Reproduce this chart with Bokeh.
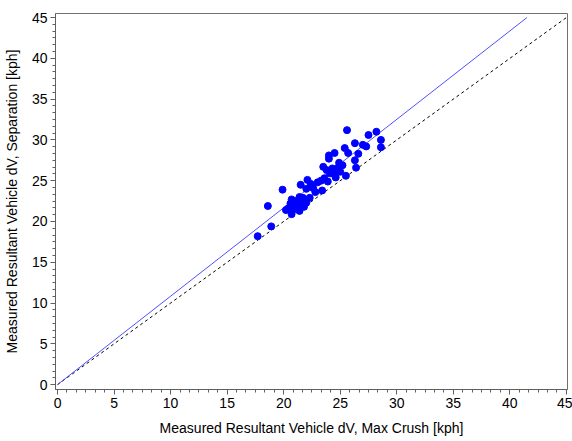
from bokeh.plotting import figure
from bokeh.models import Range1d, FixedTicker
from bokeh.embed import file_html
from bokeh.resources import INLINE

# Measured dV values (kph)
max_crush = [17.7, 18.9, 18.6, 19.9, 21.5, 23.4, 25.6, 28.2, 27.5, 28.6, 28.6, 26.3,
             27.0, 27.3, 26.6, 25.4, 25.7, 24.5, 24.0, 24.0, 26.3, 26.4, 25.5, 24.9,
             24.8, 24.3, 23.5, 23.8, 24.1, 24.5, 25.0, 23.6, 23.3, 23.0, 22.1, 22.4,
             22.6, 22.0, 21.7, 22.3, 21.4, 21.1, 20.7, 20.6, 21.5, 22.0, 21.1, 20.2,
             20.8, 21.4, 20.7, 21.2, 21.8, 20.4, 24.6, 25.2, 23.9, 22.8]
separation = [18.2, 19.4, 21.9, 23.9, 24.5, 23.8, 31.2, 31.0, 30.6, 30.0, 29.1, 29.6,
              29.4, 29.2, 28.3, 29.0, 28.4, 28.4, 28.1, 27.7, 27.5, 26.6, 25.6, 27.2,
              26.6, 26.5, 26.7, 26.3, 25.9, 25.8, 26.1, 25.3, 25.0, 24.8, 25.1, 24.6,
              24.1, 24.0, 22.9, 22.9, 23.0, 22.5, 22.7, 22.2, 22.3, 22.3, 21.8, 21.4,
              21.4, 21.3, 20.9, 21.9, 21.8, 21.6, 25.4, 26.9, 24.9, 23.6]

fit_slope = 1.084
axis_max = 45
ticks = [0, 5, 10, 15, 20, 25, 30, 35, 40, 45]

fit_x = [0, axis_max / fit_slope]
fit_y = [0, axis_max]
unity_x = [0, axis_max]
unity_y = [0, axis_max]

FONT = "Liberation Sans"

p = figure(width=572, height=441, output_backend="svg", toolbar_location=None,
           x_range=Range1d(-0.18, 45.1), y_range=Range1d(-0.6, 45.5),
           min_border_left=55, min_border_right=5, min_border_top=13, min_border_bottom=52)
p.background_fill_color = "white"
p.border_fill_color = "white"
p.outline_line_color = "#707070"
p.outline_line_width = 1
p.xgrid.visible = False
p.ygrid.visible = False

p.line(unity_x, unity_y, line_color="black", line_width=1, line_dash="3 3")
p.line(fit_x, fit_y, line_color="#5050ff", line_width=1)
p.scatter(max_crush, separation, size=7, fill_color="#0000ff", line_color="#0000ff")

for ax in (p.xaxis[0], p.yaxis[0]):
    ax.ticker = FixedTicker(ticks=ticks, minor_ticks=[i * 5 / 6 for i in range(0, 55)])
    ax.axis_line_color = "#606060"
    ax.major_tick_line_color = "#606060"
    ax.minor_tick_line_color = "#606060"
    ax.major_tick_out = 5
    ax.major_tick_in = 0
    ax.minor_tick_out = 3
    ax.minor_tick_in = 0
    ax.major_label_text_font = FONT
    ax.major_label_text_font_size = "14px"
    ax.major_label_text_color = "black"
    ax.axis_label_text_font = FONT
    ax.axis_label_text_font_size = "14px"
    ax.axis_label_text_font_style = "normal"
    ax.axis_label_text_color = "black"

p.xaxis.axis_label = "Measured Resultant Vehicle dV, Max Crush [kph]"
p.yaxis.axis_label = "Measured Resultant Vehicle dV, Separation [kph]"
p.xaxis.major_label_standoff = 3
p.yaxis.major_label_standoff = 3
p.xaxis.axis_label_standoff = 9
p.yaxis.axis_label_standoff = 9

open("out.html", "w").write(file_html(p, INLINE))
